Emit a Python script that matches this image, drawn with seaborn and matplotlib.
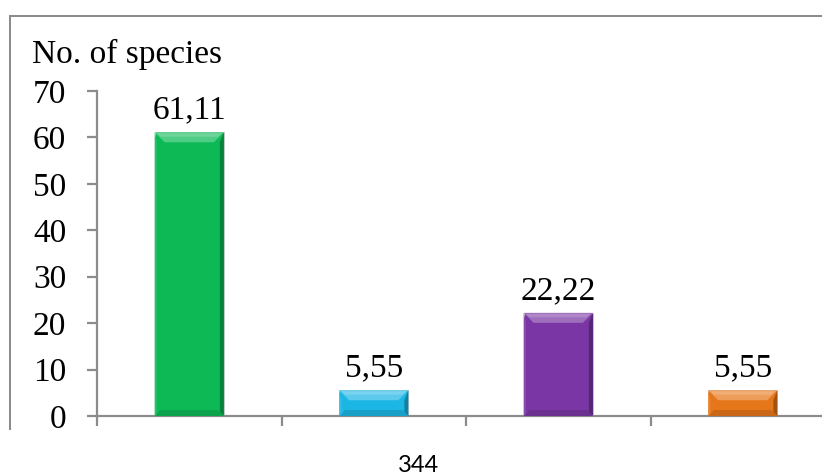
import matplotlib
matplotlib.use("Agg")
import matplotlib.pyplot as plt
import matplotlib.patches as mpatches
import seaborn as sns
import pandas as pd
import numpy as np
from matplotlib.colors import to_rgb

# Data
groups = ["1", "2", "3", "4"]
species = [61.11, 5.55, 22.22, 5.55]
bar_colors = ["#0cb955", "#1cb6e4", "#7a36a4", "#e6761a"]
y_ticks = [0, 10, 20, 30, 40, 50, 60, 70]
y_title = "No. of species"
page_number = "344"

sns.set_theme(style="white")
plt.rcParams["font.family"] = ["Liberation Serif", "DejaVu Serif"]

W, H = 822, 475
fig = plt.figure(figsize=(W / 100, H / 100), dpi=100)
fig.patch.set_facecolor("white")

# Axes placed in pixel terms; the plot area runs past the right edge
ax_left, ax_bottom, ax_top = 97, 416, 91
cat_w = 184.5
ax = fig.add_axes([ax_left / W, (H - ax_bottom) / H,
                   len(groups) * cat_w / W, (ax_bottom - ax_top) / H])

df = pd.DataFrame({"group": groups, "species": species})
sns.barplot(data=df, x="group", y="species", hue="group",
            palette=bar_colors, width=0.375, legend=False, ax=ax,
            saturation=1, edgecolor="#c8c8c8", linewidth=0.6)

ax.set_xlim(-0.5, len(groups) - 0.5)
ax.set_ylim(0, 70)
ax.set_yticks(y_ticks)
ax.set_yticklabels([str(t) for t in y_ticks], fontsize=24)
ax.set_xticks(np.arange(len(groups) + 1) - 0.5)
ax.set_xticklabels([])
ax.set_xlabel("")
ax.set_ylabel("")

grey = "#8c8c8c"
for side in ["top", "right"]:
    ax.spines[side].set_visible(False)
for side in ["left", "bottom"]:
    ax.spines[side].set_color(grey)
    ax.spines[side].set_linewidth(1.6)
ax.tick_params(axis="y", direction="out", length=7.2, width=1.6,
               color=grey, pad=15, labelcolor="black", left=True)
ax.tick_params(axis="x", direction="out", length=7.2, width=1.6,
               color=grey, bottom=True)


def shade(c, f):
    r, g, b = to_rgb(c)
    if f >= 0:
        return (r + (1 - r) * f, g + (1 - g) * f, b + (1 - b) * f)
    return (r * (1 + f), g * (1 + f), b * (1 + f))


# Bevelled look on each bar, built from the bar's own extents
fig.canvas.draw()
inv = ax.transData.inverted()
for patch, col, val in zip(ax.patches, bar_colors, species):
    x0, y0 = patch.get_x(), patch.get_y()
    x1, y1 = x0 + patch.get_width(), y0 + patch.get_height()
    (px0, py0) = ax.transData.transform((x0, y0))
    (px1, py1) = ax.transData.transform((x1, y1))
    bev = min(10, (py1 - py0) / 2.5)
    side = 4

    def P(pts):
        return [inv.transform(p) for p in pts]

    top = P([(px0, py1), (px1, py1), (px1 - bev, py1 - bev), (px0 + bev, py1 - bev)])
    ax.add_patch(mpatches.Polygon(top, closed=True, facecolor=shade(col, 0.28),
                                  edgecolor="none", zorder=3))
    top_hi = P([(px0 + 2, py1 - 1), (px1 - 2, py1 - 1),
                (px1 - bev * 0.6, py1 - bev * 0.45), (px0 + bev * 0.6, py1 - bev * 0.45)])
    ax.add_patch(mpatches.Polygon(top_hi, closed=True, facecolor=shade(col, 0.4),
                                  edgecolor="none", zorder=3))
    right = P([(px1, py1), (px1, py0), (px1 - side, py0 + side), (px1 - side, py1 - bev)])
    ax.add_patch(mpatches.Polygon(right, closed=True, facecolor=shade(col, -0.3),
                                  edgecolor="none", zorder=3))
    bottom = P([(px0, py0), (px1, py0), (px1 - bev * 0.6, py0 + bev * 0.6),
                (px0 + bev * 0.6, py0 + bev * 0.6)])
    ax.add_patch(mpatches.Polygon(bottom, closed=True, facecolor=shade(col, -0.12),
                                  edgecolor="none", zorder=3))
    left = P([(px0, py1), (px0, py0), (px0 + side * 0.6, py0 + side * 0.6),
              (px0 + side * 0.6, py1 - bev)])
    ax.add_patch(mpatches.Polygon(left, closed=True, facecolor=shade(col, 0.1),
                                  edgecolor="none", zorder=3))

    ax.annotate(f"{val:.2f}".replace(".", ","), xy=((x0 + x1) / 2, y1),
                xytext=(0, 5), textcoords="offset points",
                ha="center", va="bottom", fontsize=24, color="black")

# Y-axis title
fig.text(32 / W, (H - 63) / H, y_title, fontsize=24, ha="left",
         va="baseline", color="black")

# Outer frame: thin filled strips along the left and top edges
strip = dict(facecolor=grey, edgecolor="none", transform=None)
fig.add_artist(mpatches.Rectangle((9, H - 430), 2, 414, **strip))
fig.add_artist(mpatches.Rectangle((9, H - 17), W + 10, 2, **strip))

# Page number
fig.text(418 / W, (H - 472) / H, page_number, fontsize=17,
         family=["Lato", "DejaVu Sans"], ha="center", va="baseline",
         color="black")

fig.savefig("out.png", dpi=100)
